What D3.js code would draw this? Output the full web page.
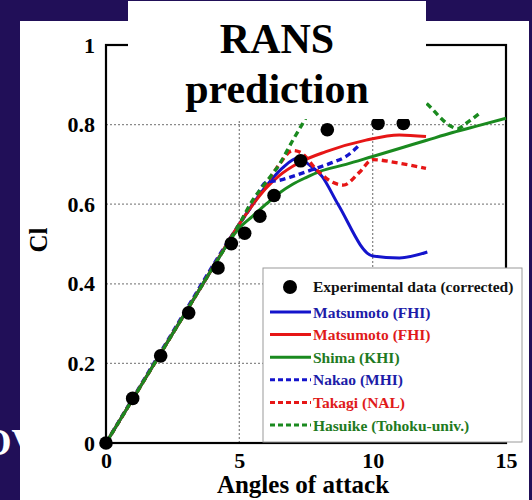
<!DOCTYPE html>
<html>
<head>
<meta charset="utf-8">
<script src="https://cdn.jsdelivr.net/npm/d3@7"></script>
<style>
  html, body { margin: 0; padding: 0; background: #210f58; }
  svg { display: block; }
  text { font-family: "Liberation Serif", "Times New Roman", serif; font-weight: bold; }
</style>
</head>
<body>
<svg id="chart" width="532" height="500"></svg>
<script>
// Lift coefficient vs angle of attack: wind-tunnel data and RANS results
const xTickValues = [0, 5, 10, 15];
const xTickLabels = ["0", "5", "10", "15"];
const yTickValues = [0, 0.2, 0.4, 0.6, 0.8, 1];
const yTickLabels = ["0", "0.2", "0.4", "0.6", "0.8", "1"];
const gridX = [5, 10];
const gridY = [0.2, 0.4, 0.6, 0.8];

// Experimental data (corrected)
const expAlpha = [0, 1.0, 2.05, 3.1, 4.2, 4.7, 5.2, 5.77, 6.3, 7.3, 8.3, 10.2, 11.15];
const expCl    = [0, 0.112, 0.219, 0.327, 0.44, 0.501, 0.527, 0.57, 0.622, 0.709, 0.787, 0.803, 0.803];

// Matsumoto (FHI), blue solid
const matsuBlueAlpha = [0, 1, 2, 3, 4, 5, 6, 6.6, 7.2, 7.6, 8.1, 8.7, 10, 11, 12.05];
const matsuBlueCl    = [0, 0.11, 0.22, 0.33, 0.44, 0.55, 0.645, 0.69, 0.716, 0.70, 0.67, 0.60, 0.47, 0.465, 0.48];

// Matsumoto (FHI), red solid
const matsuRedAlpha = [0, 1, 2, 3, 4, 5, 6, 6.5, 7.2, 8.25, 9.75, 11, 12];
const matsuRedCl    = [0, 0.11, 0.22, 0.33, 0.44, 0.55, 0.64, 0.672, 0.703, 0.732, 0.761, 0.774, 0.77];

// Shima (KHI), green solid
const shimaAlpha = [0, 1, 2, 3, 4, 5, 5.5, 6, 6.5, 7, 7.5, 8, 9, 10, 11, 12, 13, 14, 15];
const shimaCl    = [0, 0.11, 0.22, 0.33, 0.44, 0.54, 0.57, 0.60, 0.628, 0.65, 0.667, 0.682, 0.70, 0.72, 0.74, 0.76, 0.78, 0.798, 0.816];

// Nakao (MHI), blue dashed
const nakaoAlpha = [0, 1, 2, 3, 4, 5, 5.5, 6, 6.5, 7, 7.7, 8.5, 9, 9.45];
const nakaoCl    = [0, 0.112, 0.223, 0.334, 0.445, 0.55, 0.60, 0.655, 0.66, 0.67, 0.686, 0.705, 0.72, 0.745];

// Takagi (NAL), red dashed
const takagiAlpha = [0, 1, 2, 3, 4, 5, 6, 6.5, 7, 7.3, 7.9, 8.5, 8.9, 9.5, 10, 11, 12];
const takagiCl    = [0, 0.11, 0.22, 0.33, 0.44, 0.55, 0.65, 0.70, 0.735, 0.73, 0.686, 0.655, 0.648, 0.68, 0.712, 0.703, 0.69];

// Hasuike (Tohoku-univ.), green dashed
const hasuikeAlpha = [0, 1, 2, 3, 4, 5, 5.5, 6, 6.5, 7, 7.35, 7.7, 8.5, 9.5, 10.5, 11.3, 11.8, 12.15, 12.5, 12.9, 13.2, 13.5, 14];
const hasuikeCl    = [0, 0.11, 0.22, 0.33, 0.44, 0.55, 0.61, 0.655, 0.70, 0.76, 0.80, 0.84, 0.88, 0.90, 0.90, 0.885, 0.865, 0.845, 0.82, 0.797, 0.79, 0.803, 0.828];

const blue = "#1414cc", red = "#e61616", green = "#1a8a1f";
const blueText = "#1c1ca8", redText = "#e01a1a", greenText = "#1f7a22";

const series = [
  { name: "Matsumoto (FHI)", a: matsuBlueAlpha, c: matsuBlueCl, color: blue, text: blueText, dash: null },
  { name: "Matsumoto (FHI)", a: matsuRedAlpha, c: matsuRedCl, color: red, text: redText, dash: null },
  { name: "Shima (KHI)", a: shimaAlpha, c: shimaCl, color: green, text: greenText, dash: null },
  { name: "Nakao (MHI)", a: nakaoAlpha, c: nakaoCl, color: blue, text: blueText, dash: "6,4" },
  { name: "Takagi (NAL)", a: takagiAlpha, c: takagiCl, color: red, text: redText, dash: "6,4" },
  { name: "Hasuike (Tohoku-univ.)", a: hasuikeAlpha, c: hasuikeCl, color: green, text: greenText, dash: "6,4" }
];

const svg = d3.select("#chart");

// slide background text peeking out at the left edge
svg.append("text").attr("x", -18).attr("y", 455)
  .attr("fill", "#fff").style("font-size", "38px").text("OV");

// white slide panel
svg.append("rect").attr("x", 20).attr("y", 21).attr("width", 509).attr("height", 479).attr("fill", "#fff");

const x = d3.scaleLinear().domain([0, 15]).range([106, 506]);
const y = d3.scaleLinear().domain([0, 1]).range([443, 45]);

// dotted grid
const grid = svg.append("g").attr("stroke", "#8a8a8a").attr("stroke-width", 1.3).attr("stroke-dasharray", "2,2");
grid.selectAll("line.gx").data(gridX).join("line")
  .attr("x1", d => x(d)).attr("x2", d => x(d)).attr("y1", y(0)).attr("y2", y(1));
grid.selectAll("line.gy").data(gridY).join("line")
  .attr("x1", x(0)).attr("x2", x(15)).attr("y1", d => y(d)).attr("y2", d => y(d));

// plot frame
svg.append("rect").attr("x", x(0)).attr("y", y(1))
  .attr("width", x(15) - x(0)).attr("height", y(0) - y(1))
  .attr("fill", "none").attr("stroke", "#000").attr("stroke-width", 2.2);

// axes (labels only; frame drawn above)
const yAxis = d3.axisLeft(y).tickValues(yTickValues).tickSize(0).tickPadding(11)
  .tickFormat((d, i) => yTickLabels[i]);
const gy = svg.append("g").attr("transform", `translate(${x(0)},0)`).call(yAxis);
gy.select(".domain").remove();
gy.selectAll("text").attr("fill", "#000").style("font-size", "22px")
  .style("font-family", "'Liberation Serif', serif").style("font-weight", "bold");

const xAxis = d3.axisBottom(x).tickValues(xTickValues).tickSize(0).tickPadding(9)
  .tickFormat((d, i) => xTickLabels[i]);
const gx = svg.append("g").attr("transform", `translate(0,${y(0)})`).call(xAxis);
gx.select(".domain").remove();
gx.selectAll("text").attr("fill", "#000").style("font-size", "22px")
  .style("font-family", "'Liberation Serif', serif").style("font-weight", "bold");

svg.append("text").attr("x", 303).attr("y", 493).attr("text-anchor", "middle")
  .style("font-size", "25px").text("Angles of attack");
svg.append("text").attr("transform", "translate(47,240) rotate(-90)").attr("text-anchor", "middle")
  .style("font-size", "25px").text("Cl");

// model curves
const line = d3.line().x(d => x(d[0])).y(d => y(d[1])).curve(d3.curveMonotoneX);
series.forEach(s => {
  const pts = s.a.map((v, i) => [v, s.c[i]]);
  svg.append("path").datum(pts).attr("d", line)
    .attr("fill", "none").attr("stroke", s.color)
    .attr("stroke-width", s.dash ? 3.4 : 3)
    .attr("stroke-dasharray", s.dash)
    .attr("stroke-linejoin", "round");
});

// experimental points
svg.append("g").selectAll("circle").data(expAlpha.map((a, i) => [a, expCl[i]])).join("circle")
  .attr("cx", d => x(d[0])).attr("cy", d => y(d[1])).attr("r", 6.8).attr("fill", "#000");

// title box
svg.append("rect").attr("x", 128).attr("y", 1).attr("width", 298).attr("height", 118).attr("fill", "#fff");
svg.append("text").attr("x", 277).attr("y", 53).attr("text-anchor", "middle")
  .style("font-size", "42px").text("RANS");
svg.append("text").attr("x", 277).attr("y", 103).attr("text-anchor", "middle")
  .style("font-size", "42px").text("prediction");

// legend
const lg = svg.append("g");
lg.append("rect").attr("x", 263).attr("y", 268).attr("width", 259).attr("height", 174)
  .attr("fill", "#fff").attr("stroke", "#9a9a9a").attr("stroke-width", 1);
lg.append("circle").attr("cx", 290).attr("cy", 287).attr("r", 7).attr("fill", "#000");
lg.append("text").attr("x", 313).attr("y", 292).attr("fill", "#111")
  .style("font-size", "15.5px").text("Experimental data (corrected)");
series.forEach((s, i) => {
  const cy = 312 + i * 22.6;
  lg.append("line").attr("x1", 270).attr("x2", 311).attr("y1", cy).attr("y2", cy)
    .attr("stroke", s.color).attr("stroke-width", 3).attr("stroke-dasharray", s.dash ? "5,3" : null);
  lg.append("text").attr("x", 313).attr("y", cy + 5.5).attr("fill", s.text)
    .style("font-size", "15.5px").text(s.name);
});
</script>
</body>
</html>
